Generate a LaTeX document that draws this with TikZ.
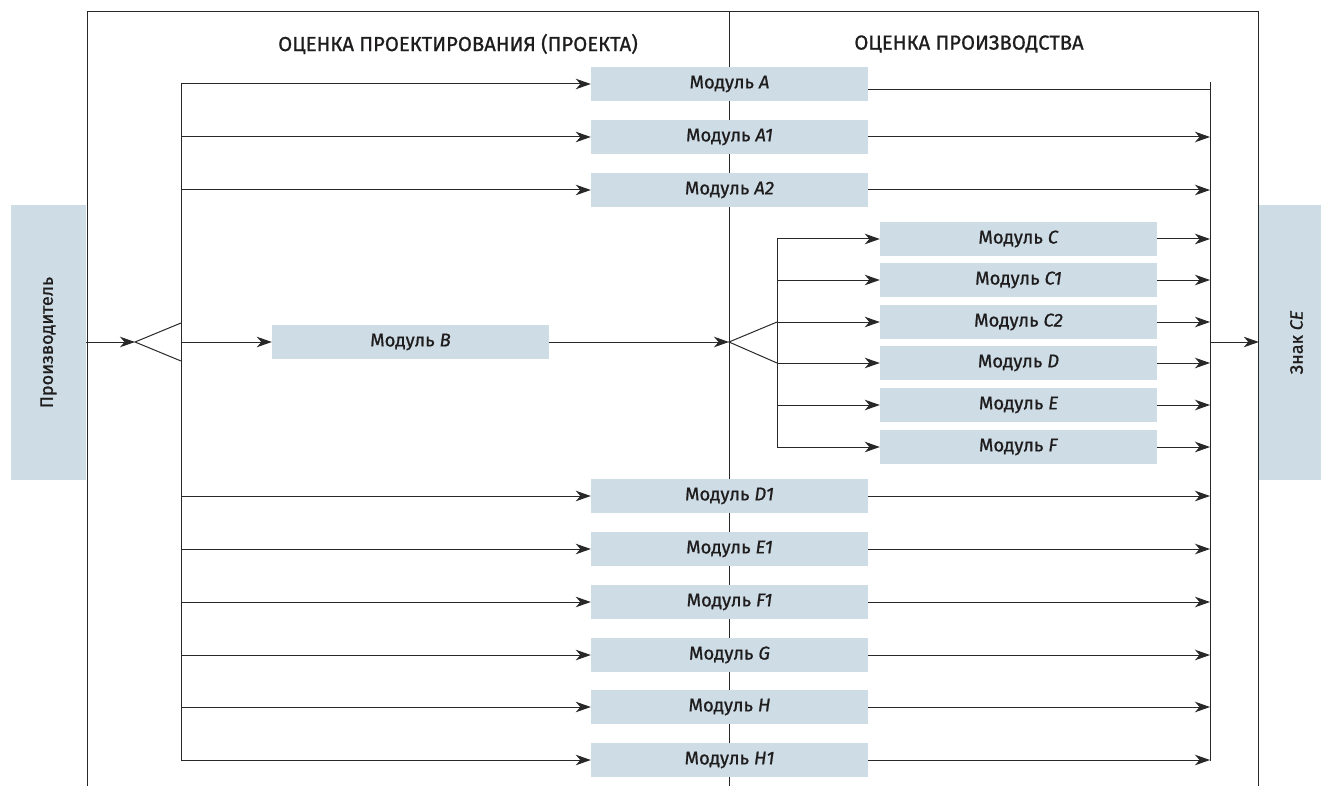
\documentclass[tikz,border=0pt]{standalone}
\usepackage{fontspec}
\setmainfont{Fira Sans}[UprightFeatures={FakeBold=0.9}, ItalicFeatures={FakeBold=0.9}]
\usetikzlibrary{arrows.meta}
\definecolor{modblue}{RGB}{206,220,230}
\definecolor{linegray}{RGB}{40,40,40}
\definecolor{txtgray}{RGB}{30,28,28}
\tikzset{
  modbox/.style={fill=modblue, minimum width=277pt, minimum height=34pt, inner sep=0pt,
    text=txtgray, font=\fontsize{18.5}{20}\selectfont},
  sidebox/.style={fill=modblue, minimum width=75pt, minimum height=275pt, inner sep=0pt,
    text=txtgray, font=\fontsize{18}{20}\selectfont},
  headtxt/.style={text=txtgray, font=\fontsize{20.3}{22}\selectfont},
  ln/.style={draw=linegray, line width=1pt},
  arr/.style={ln, -{Stealth[length=15pt, width=10.5pt, inset=4.5pt]}}
}

\begin{document}
\begin{tikzpicture}[x=1pt, y=-1pt]
                        \useasboundingbox (0,0) rectangle (1321,786);
                        \node[sidebox] (maker) at (48.5,342.5) {\rotatebox{90}{Производитель}};
                        \node[sidebox] (ce) at (1296.5,342.5) {\rotatebox{90}{Знак \textit{CE}}};
                        \draw[ln] (87,786) -- (87,12) -- (1258,12) -- (1258,786);
                        \draw[ln] (729,12) -- (729,786);
                        \node[headtxt] (hdesign) at (458,44) {ОЦЕНКА ПРОЕКТИРОВАНИЯ (ПРОЕКТА)};
                        \node[headtxt] (hprod) at (969,44) {ОЦЕНКА ПРОИЗВОДСТВА};
                        \coordinate (forkL) at (135,342);
                        \coordinate (forkR) at (729,342);
                        \draw[arr] (maker.east |- forkL) -- (forkL);
                        \draw[ln] (181,323) -- (forkL) -- (181,361);
                        \draw[ln] (181,83) -- (181,761);
                        \draw[ln] (1210,82) -- (1210,761);
                        \draw[ln] (777,239) -- (777,447);
                        \draw[ln] (777,322) -- (forkR) -- (777,363);
                        \node[modbox] (mA) at (729.5,84) {\raisebox{-1.5pt}{Модуль \textit{A}}};
                        \draw[arr] (181,84) -- (mA.west);
                        \draw[ln] (mA.east |- 0,90) -- (1210,90);
                        \node[modbox] (mB) at (410.5,342) {\raisebox{-1.5pt}{Модуль \textit{B}}};
                        \draw[arr] (181,342) -- (mB.west);
                        \draw[arr] (mB.east) -- (forkR);
                        \draw[arr] (1210,342) -- (ce.west |- 0,342);
                        \foreach \nm/\y in {A1/137, A2/190, D1/496, E1/549, F1/602, G/655, H/707, H1/760}
                          {\node[modbox] (m\nm) at (729.5,\y) {\raisebox{-1.5pt}{Модуль \textit{\nm}}};
                           \draw[arr] (181,\y) -- (m\nm.west);
                           \draw[arr] (m\nm.east) -- (1210,\y);}
                        \foreach \nm/\y in {C/239, C1/280, C2/322, D/363, E/405, F/447}
                          {\node[modbox] (p\nm) at (1018.5,\y) {\raisebox{-1.5pt}{Модуль \textit{\nm}}};
                           \draw[arr] (777,\y) -- (p\nm.west);
                           \draw[arr] (p\nm.east) -- (1210,\y);}
                    \end{tikzpicture}
\end{document}
